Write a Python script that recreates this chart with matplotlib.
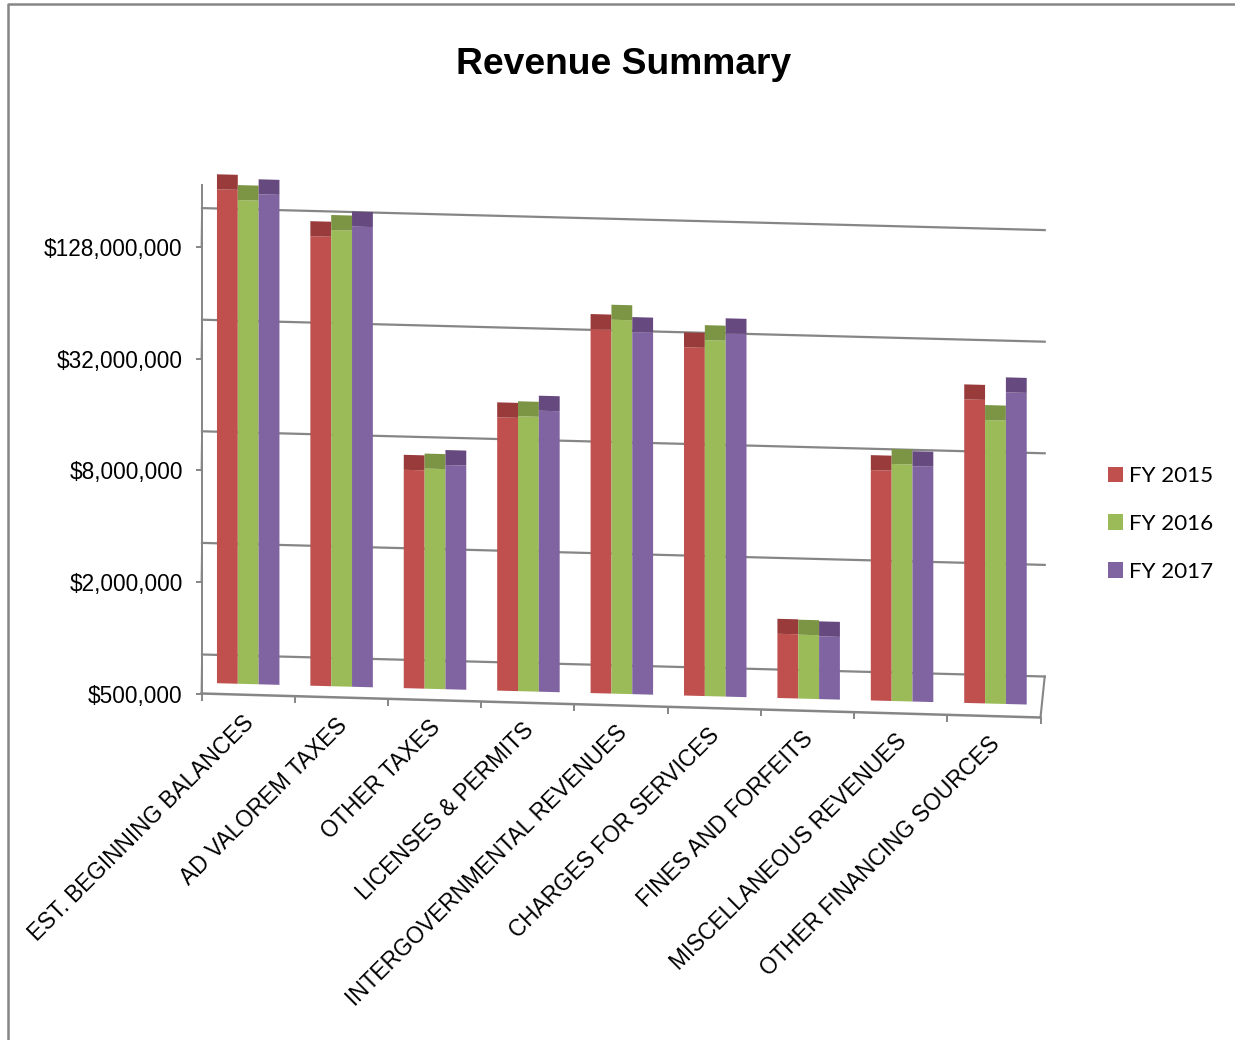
import matplotlib
matplotlib.use('Agg')
import matplotlib.pyplot as plt
from matplotlib.lines import Line2D
from matplotlib.ticker import FixedLocator, FixedFormatter, NullLocator
from matplotlib.transforms import Affine2D, IdentityTransform

plt.rcParams['font.family'] = 'Liberation Sans'

categories = ['EST. BEGINNING BALANCES', 'AD VALOREM TAXES', 'OTHER TAXES', 'LICENSES & PERMITS',
              'INTERGOVERNMENTAL REVENUES', 'CHARGES FOR SERVICES', 'FINES AND FORFEITS',
              'MISCELLANEOUS REVENUES', 'OTHER FINANCING SOURCES']
fy2015 = [231.0e6, 133.0e6, 7.53e6, 14.9e6, 46.0e6, 37.8e6, 1.11e6, 8.74e6, 21.7e6]
fy2016 = [203.4e6, 144.6e6, 7.70e6, 15.2e6, 52.0e6, 41.6e6, 1.105e6, 9.50e6, 16.9e6]
fy2017 = [220.0e6, 152.0e6, 8.10e6, 16.4e6, 44.9e6, 45.6e6, 1.09e6, 9.30e6, 24.0e6]
y_ticks = [500000, 2000000, 8000000, 32000000, 128000000]
series = ['FY 2015', 'FY 2016', 'FY 2017']

W, H = 1235, 1040
GRAY = '#868686'
face_colors = ['#C0504D', '#9BBB59', '#8064A2']
cap_colors = ['#9A3B3B', '#7C9545', '#65497F']

# pixel geometry of the fake 3D box
X0, X1 = 201.5, 1040.5
PY_MIN = 693.5
OCTAVE_PX = 55.8
TOP_OCTAVES = (PY_MIN - 185) / OCTAVE_PX
Y_MIN = 500000
Y_TOP = Y_MIN * 2 ** TOP_OCTAVES
CAP_FACTOR = 2 ** (15 / OCTAVE_PX)
BAR_W = 0.223

fig = plt.figure(figsize=(W / 100, H / 100), dpi=100)
ax = fig.add_axes([X0 / W, 1 - PY_MIN / H, (X1 - X0) / W, (PY_MIN - 185) / H])
ax.set_yscale('log', base=2)
ax.patch.set_visible(False)
# limits first, the links below read the transforms straight away
ax.set_xlim(0, 9)
ax.set_ylim(Y_MIN, Y_TOP)


def plane(rise, slope, dx=0.0, sx=1.0):
    # shear in display space, so each depth plane runs downhill to the right
    return ax.transData + Affine2D.from_values(sx, -slope, 0, 1, dx + X0 * (1 - sx), rise + slope * X0)


front = plane(0, 0.0286)
back = plane(39, 0.0261, 0.5)
bar_plane = plane(10.7, 0.0264, 0, 1.002)

# back wall gridlines
for v in y_ticks:
    ax.plot([0, 9.04], [v, v], color=GRAY, lw=1.6, transform=back, clip_on=False, zorder=1)
    # short link from the axis to the wall
    p0 = front.transform((0, v))
    p1 = back.transform((0, v))
    ax.plot([p0[0], p1[0]], [p0[1], p1[1]], color=GRAY, lw=1.3,
            transform=IdentityTransform(), clip_on=False, zorder=1)

# floor front edge and right edge
ax.plot([0, 9], [Y_MIN, Y_MIN], color=GRAY, lw=1.8, transform=front, clip_on=False, zorder=1)
p0 = front.transform((9, Y_MIN))
p1 = back.transform((9.04, Y_MIN))
ax.plot([p0[0], p1[0]], [p0[1], p1[1]], color=GRAY, lw=1.5,
        transform=IdentityTransform(), clip_on=False, zorder=1)
ax.plot(range(10), [Y_MIN] * 10, ls='none', marker=3, ms=5, mew=1.4, color=GRAY,
        transform=front, clip_on=False, zorder=1)

# bars
bars = []
for k, values in enumerate([fy2015, fy2016, fy2017]):
    xs = [i + 0.5 + (k - 1) * BAR_W for i in range(len(values))]
    tops = [v * CAP_FACTOR - v for v in values]
    b = ax.bar(xs, [v - Y_MIN for v in values], BAR_W, bottom=Y_MIN, color=face_colors[k],
               transform=bar_plane, clip_on=False, zorder=3, label=series[k], linewidth=0)
    ax.bar(xs, tops, BAR_W, bottom=values, color=cap_colors[k],
           transform=bar_plane, clip_on=False, zorder=3, linewidth=0)
    bars.append(b)

ax.set_xlim(0, 9)
ax.set_ylim(Y_MIN, Y_TOP)
for s in ['top', 'right', 'bottom']:
    ax.spines[s].set_visible(False)
ax.spines['left'].set_color(GRAY)
ax.spines['left'].set_linewidth(1.4)
ax.xaxis.set_major_locator(NullLocator())
ax.xaxis.set_minor_locator(NullLocator())
ax.yaxis.set_major_locator(FixedLocator(y_ticks))
ax.yaxis.set_major_formatter(FixedFormatter([f'${v:,.0f}' for v in y_ticks]))
ax.yaxis.set_minor_locator(NullLocator())
ax.tick_params(axis='y', length=4.5, width=1.4, color=GRAY, pad=9, labelsize=16.3)

# category labels follow the sloping floor
for i, name in enumerate(categories):
    ax.annotate(name, xy=(i + 0.5, Y_MIN), xycoords=front, xytext=(-6, -16), textcoords='offset pixels',
                rotation=45, rotation_mode='anchor', ha='right', va='top', fontsize=16.3,
                color='black', annotation_clip=False)

fig.text(624 / W, 1 - 64.5 / H, 'Revenue Summary', fontsize=26.8, fontweight='bold', ha='center', va='center')

leg = fig.legend(handles=[b[0] for b in bars], labels=series, loc='center left',
                 bbox_to_anchor=(1101 / W, 1 - 524 / H), frameon=False,
                 prop={'family': 'Lato', 'size': 16.1}, handlelength=0.68, handleheight=0.68,
                 handletextpad=0.28, labelspacing=1.24, borderpad=0.3, borderaxespad=0)

# chart frame clipped by the crop
fig.add_artist(Line2D([8 / W, 8 / W, 1], [0, 1 - 4 / H, 1 - 4 / H], color=GRAY, lw=1.8,
                      transform=fig.transFigure))

fig.savefig('out.png', dpi=100)
